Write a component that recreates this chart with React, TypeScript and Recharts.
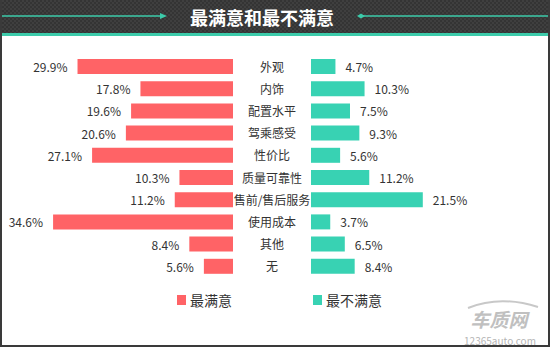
import React from "react";
import { BarChart, Bar, XAxis, YAxis, LabelList } from "recharts";

const categories = ["外观", "内饰", "配置水平", "驾乘感受", "性价比", "质量可靠性", "售前/售后服务", "使用成本", "其他", "无"];
const mostSatisfied = [29.9, 17.8, 19.6, 20.6, 27.1, 10.3, 11.2, 34.6, 8.4, 5.6];
const leastSatisfied = [4.7, 10.3, 7.5, 9.3, 5.6, 11.2, 21.5, 3.7, 6.5, 8.4];

const RED = "#FF6366";
const TEAL = "#38D2B3";
const FONT = '"Microsoft YaHei", "Noto Sans CJK SC", sans-serif';

const data = categories.map((name, i) => ({
  name,
  most: mostSatisfied[i],
  least: leastSatisfied[i],
}));

const leftLabel = (p: any) => {
  const x = Number(p.x), w = Number(p.width), y = Number(p.y), h = Number(p.height);
  const left = Math.min(x, x + w);
  return (
    <text x={left - 10} y={y + h / 2} textAnchor="end" dominantBaseline="central" fill="#333" fontSize={12}>
      {p.value}%
    </text>
  );
};

const rightLabel = (p: any) => {
  const x = Number(p.x), w = Number(p.width), y = Number(p.y), h = Number(p.height);
  const right = Math.max(x, x + w);
  return (
    <text x={right + 10} y={y + h / 2} textAnchor="start" dominantBaseline="central" fill="#333" fontSize={12}>
      {p.value}%
    </text>
  );
};

const CategoryTick = (p: any) => (
  <text x={p.x - 39} y={p.y} textAnchor="middle" dominantBaseline="central" fill="#333" fontSize={12}>
    {p.payload.value}
  </text>
);

export default function App() {
  return (
    <div
      style={{
        position: "absolute",
        left: 0,
        top: 0,
        width: 550,
        height: 347,
        background: "#fff",
        fontFamily: FONT,
        overflow: "hidden",
      }}
    >
      {/* title bar */}
      <div
        style={{
          position: "absolute",
          left: 0,
          top: 0,
          width: 550,
          height: 33,
          background: "repeating-conic-gradient(#3f3f3f 0 25%, #343434 0 50%) 0 0 / 4px 4px",
        }}
      />
      <div style={{ position: "absolute", left: 0, top: 33, width: 550, height: 3, background: "#3CCBAA" }} />
      <svg style={{ position: "absolute", left: 0, top: 0 }} width={550} height={33}>
        <line x1={0} y1={16} x2={164} y2={16} stroke="#3CCBAA" strokeWidth={1.5} />
        <path d="M160,13 L167,16 L160,19 Z" fill="#3CCBAA" />
        <line x1={360} y1={16} x2={550} y2={16} stroke="#3CCBAA" strokeWidth={1.5} />
        <path d="M357,16 L361,13.5 L365,16 L361,18.5 Z" fill="#3CCBAA" />
        <text x={262} y={17} textAnchor="middle" dominantBaseline="central" fill="#fff" fontSize={18} fontWeight="bold">
          最满意和最不满意
        </text>
      </svg>

      {/* left: most satisfied */}
      <div style={{ position: "absolute", left: 0, top: 0 }}>
        <BarChart width={233} height={347} data={data} layout="vertical" margin={{ top: 55, bottom: 70, left: 25, right: 0 }}>
          <XAxis type="number" domain={[0, 40]} reversed hide />
          <YAxis type="category" dataKey="name" hide />
          <Bar dataKey="most" fill={RED} barSize={15} isAnimationActive={false}>
            <LabelList dataKey="most" content={leftLabel} />
          </Bar>
        </BarChart>
      </div>

      {/* right: least satisfied */}
      <div style={{ position: "absolute", left: 233, top: 0 }}>
        <BarChart width={317} height={347} data={data} layout="vertical" margin={{ top: 55, bottom: 70, left: 0, right: 31 }}>
          <XAxis type="number" domain={[0, 40]} hide />
          <YAxis
            type="category"
            dataKey="name"
            width={78}
            axisLine={false}
            tickLine={false}
            tickSize={0}
            tickMargin={0}
            tick={CategoryTick}
            interval={0}
          />
          <Bar dataKey="least" fill={TEAL} barSize={15} isAnimationActive={false}>
            <LabelList dataKey="least" content={rightLabel} />
          </Bar>
        </BarChart>
      </div>

      {/* legend */}
      <div style={{ position: "absolute", left: 177, top: 290, display: "flex", alignItems: "center", fontSize: 14, color: "#333" }}>
        <span style={{ display: "inline-block", width: 9, height: 10, background: RED, marginRight: 4 }} />
        最满意
      </div>
      <div style={{ position: "absolute", left: 313, top: 290, display: "flex", alignItems: "center", fontSize: 14, color: "#333" }}>
        <span style={{ display: "inline-block", width: 9, height: 10, background: TEAL, marginRight: 4 }} />
        最不满意
      </div>

      {/* watermark */}
      <svg style={{ position: "absolute", left: 440, top: 300 }} width={110} height={47}>
        <path d="M28,8 Q60,-5 98,7" stroke="#c8c8c8" strokeWidth={2} fill="none" />
        <text x={59} y={18} textAnchor="middle" dominantBaseline="central" fill="#c0c0c0" fontSize={19} fontWeight="bold" fontStyle="italic">
          车质网
        </text>
        <text x={60} y={40} textAnchor="middle" dominantBaseline="central" fill="#b5b5b5" fontSize={10}>
          12365auto.com
        </text>
      </svg>

      {/* frame */}
      <div
        style={{
          position: "absolute",
          left: 0,
          top: 0,
          width: 550,
          height: 347,
          boxSizing: "border-box",
          borderLeft: "2px solid #3a3a3a",
          borderRight: "2px solid #3a3a3a",
          borderBottom: "2px solid #3a3a3a",
          pointerEvents: "none",
        }}
      />
    </div>
  );
}
